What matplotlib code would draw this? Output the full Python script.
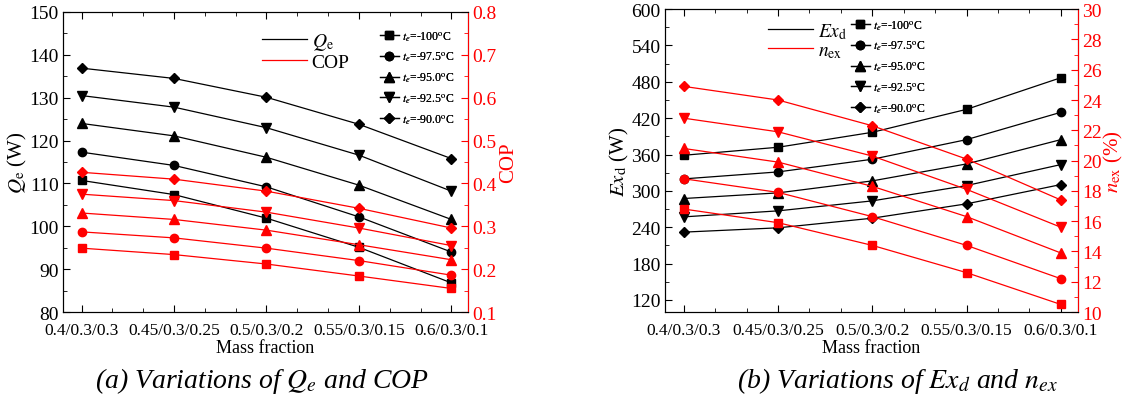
import matplotlib
matplotlib.use('Agg')
from matplotlib import pyplot as plt
from matplotlib.ticker import MultipleLocator
from matplotlib.lines import Line2D

plt.rcParams['font.family'] = ['Liberation Serif', 'DejaVu Serif']
plt.rcParams['mathtext.fontset'] = 'stix'

mass_labels = ['0.4/0.3/0.3', '0.45/0.3/0.25', '0.5/0.3/0.2', '0.55/0.3/0.15', '0.6/0.3/0.1']
te_labels = ['-100', '-97.5', '-95.0', '-92.5', '-90.0']
markers = ['s', 'o', '^', 'v', 'D']

# (a) cooling capacity and COP, one row per evaporating temperature
qe = [[110.7, 107.4, 101.9, 95.1, 86.8],
      [117.3, 114.2, 109.2, 102.2, 94.0],
      [124.0, 121.1, 116.1, 109.6, 101.6],
      [130.5, 127.8, 123.0, 116.6, 108.2],
      [136.9, 134.5, 130.1, 123.8, 115.8]]
cop = [[0.249, 0.234, 0.212, 0.184, 0.155],
       [0.287, 0.273, 0.249, 0.220, 0.186],
       [0.331, 0.316, 0.291, 0.257, 0.222],
       [0.375, 0.360, 0.333, 0.296, 0.255],
       [0.426, 0.410, 0.382, 0.342, 0.296]]

# (b) exergy destruction and exergy efficiency
exd = [[358.8, 372.0, 396.7, 434.6, 486.8],
       [319.8, 331.3, 352.2, 384.6, 429.7],
       [287.4, 296.7, 316.5, 344.5, 384.6],
       [257.1, 267.0, 283.5, 308.8, 343.4],
       [231.9, 239.0, 254.9, 278.6, 310.4]]
nex = [[16.8, 15.9, 14.4, 12.6, 10.5],
       [18.8, 17.9, 16.3, 14.4, 12.2],
       [20.8, 19.9, 18.3, 16.3, 13.9],
       [22.8, 21.9, 20.3, 18.1, 15.6],
       [24.9, 24.0, 22.3, 20.1, 17.4]]

x = list(range(len(mass_labels)))
RED = '#ff0000'
lw = 0.9
msizes = {'s': 5.5, 'o': 6, '^': 6.5, 'v': 6.5, 'D': 5.5}


def style_axes(ax, twin):
    ax.set_xlim(-0.2, 4.18)
    ax.set_xticks(x)
    ax.set_xticklabels(mass_labels, fontsize=12.5)
    ax.xaxis.set_minor_locator(MultipleLocator(1 / 3))
    ax.tick_params(axis='x', which='both', direction='in', top=True)
    ax.tick_params(axis='x', which='major', length=5, pad=7)
    ax.tick_params(axis='x', which='minor', length=3)
    ax.tick_params(axis='y', which='both', direction='in', labelsize=14)
    ax.tick_params(axis='y', which='major', length=5, pad=3)
    ax.tick_params(axis='y', which='minor', length=3)
    twin.tick_params(axis='y', which='both', direction='in', colors=RED, labelsize=14)
    twin.tick_params(axis='y', which='major', length=5, pad=3)
    twin.tick_params(axis='y', which='minor', length=3)
    twin.spines['right'].set_color(RED)
    ax.set_xlabel('Mass fraction', fontsize=13, labelpad=1)


def marker_legend(ax, anchor):
    handles = [Line2D([], [], color='black', lw=lw, marker=m, ms=msizes[m]) for m in markers]
    labels = [r'$t_e$=' + t + r'$^{\rm o}$C' for t in te_labels]
    leg = ax.legend(handles, labels, loc='upper left', bbox_to_anchor=anchor,
                    bbox_transform=fig.transFigure, frameon=False, borderaxespad=0,
                    borderpad=0, fontsize=8.5, handlelength=1.6, handletextpad=0.3,
                    labelspacing=0.6)
    ax.add_artist(leg)


def line_legend(ax, labels, anchor):
    handles = [Line2D([], [], color='black', lw=lw), Line2D([], [], color=RED, lw=lw)]
    leg = ax.legend(handles, labels, loc='upper left', bbox_to_anchor=anchor,
                    bbox_transform=fig.transFigure, frameon=False, borderaxespad=0,
                    borderpad=0, fontsize=14, handlelength=2.3, handletextpad=0.25,
                    labelspacing=0.05)
    ax.add_artist(leg)


fig = plt.figure(figsize=(11.28, 4.06), dpi=100)

# ---- (a)
ax1 = fig.add_axes([0.0559, 0.229, 0.359, 0.739])
tw1 = ax1.twinx()
for i, m in enumerate(markers):
    ax1.plot(x, qe[i], color='black', lw=lw, marker=m, ms=msizes[m])
    tw1.plot(x, cop[i], color=RED, lw=lw, marker=m, ms=msizes[m])
ax1.set_ylim(80, 150)
ax1.yaxis.set_major_locator(MultipleLocator(10))
ax1.yaxis.set_minor_locator(MultipleLocator(5))
tw1.set_ylim(0.1, 0.8)
tw1.yaxis.set_major_locator(MultipleLocator(0.1))
tw1.yaxis.set_minor_locator(MultipleLocator(0.05))
style_axes(ax1, tw1)
ax1.set_ylabel(r'$Q_{\rm e}$ (W)', fontsize=15, labelpad=0)
tw1.set_ylabel('COP', fontsize=15, color=RED, labelpad=2)
line_legend(tw1, [r'$Q_{\rm e}$', 'COP'], (262 / 1128, 1 - 32 / 406))
marker_legend(tw1, (380 / 1128, 1 - 30 / 406))

# ---- (b)
ax2 = fig.add_axes([0.5895, 0.229, 0.366, 0.746])
tw2 = ax2.twinx()
for i, m in enumerate(markers):
    ax2.plot(x, exd[i], color='black', lw=lw, marker=m, ms=msizes[m])
    tw2.plot(x, nex[i], color=RED, lw=lw, marker=m, ms=msizes[m])
ax2.set_ylim(100, 600)
ax2.set_yticks(range(120, 601, 60))
ax2.yaxis.set_minor_locator(MultipleLocator(30))
tw2.set_ylim(10, 30)
tw2.yaxis.set_major_locator(MultipleLocator(2))
tw2.yaxis.set_minor_locator(MultipleLocator(1))
style_axes(ax2, tw2)
ax2.set_ylabel(r'$Ex_{\rm d}$ (W)', fontsize=15, labelpad=0)
tw2.set_ylabel(r'$n_{\rm ex}$ (%)', fontsize=15, color=RED, labelpad=0)
line_legend(tw2, [r'$Ex_{\rm d}$', r'$n_{\rm ex}$'], (768 / 1128, 1 - 22 / 406))
marker_legend(tw2, (851 / 1128, 1 - 19 / 406))

fig.text(0.232, 0.062, r'(a) Variations of $Q_e$ and COP', ha='center', va='center',
         fontsize=20, style='italic')
fig.text(0.796, 0.062, r'(b) Variations of $Ex_d$ and $n_{ex}$', ha='center', va='center',
         fontsize=20, style='italic')

fig.savefig('out.png', dpi=100)
